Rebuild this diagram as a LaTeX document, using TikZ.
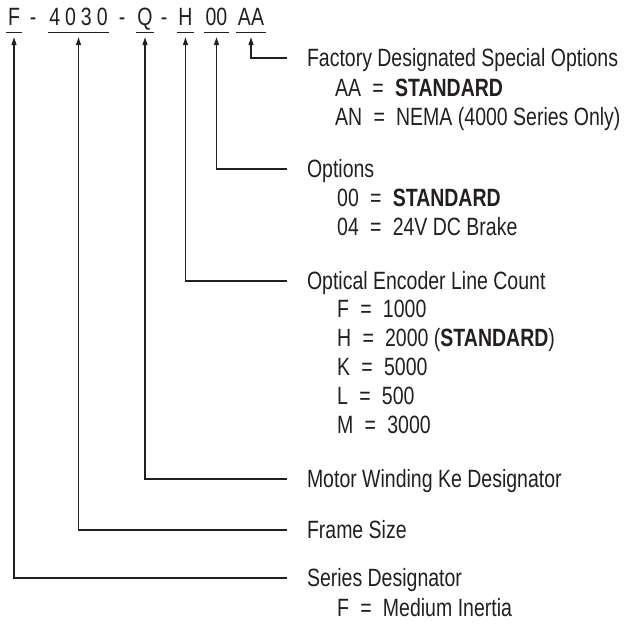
\documentclass[tikz,border=0pt]{standalone}
\usepackage{fontspec}
\setmainfont{Liberation Sans}[FakeStretch=0.78]
\usetikzlibrary{arrows.meta}
\definecolor{ink}{HTML}{231F20}
\newcommand\eq{\hspace{0.45em}=\hspace{0.45em}}

\begin{document}
\begin{tikzpicture}[x=1pt,y=-1pt,font=\fontsize{25}{30}\selectfont,text=ink,
  code/.style={anchor=base,inner xsep=1.5pt,inner ysep=7.5pt,text depth=0pt},
  head/.style={anchor=base west,inner sep=0pt,outer xsep=20pt,text height=18pt,text depth=2pt},
  item/.style={anchor=base west,inner sep=0pt},
  uline/.style={draw=ink,line width=1.2pt},
  lead/.style={draw=ink,line width=1.2pt,-{Triangle[length=8pt,width=5pt]},shorten >=4.5pt}]
\useasboundingbox (0,0) rectangle (624,624);

% part number
\node[code] (cF) at (14,25) {F};
\node[code] (d1) at (33,25) {-};
\node[code] (c4030) at (78.5,25) {4\hspace{5pt}0\hspace{5pt}3\hspace{5pt}0};
\node[code] (d2) at (122,25) {-};
\node[code] (cQ) at (145,25) {Q};
\node[code] (d3) at (164,25) {-};
\node[code] (cH) at (185.5,25) {H};
\node[code] (c00) at (216.5,25) {00};
\node[code] (cAA) at (251,25) {AA};
\foreach \c in {cF,c4030,cQ,cH,c00,cAA}
  \draw[uline] (\c.south west) -- (\c.south east);

% descriptions
\node[head] (hAA) at (287,66) {Factory Designated Special Options};
\node[item] (iAA) at (335,96) {AA\eq\textbf{STANDARD}};
\node[item] (iAN) at (335,125) {AN\eq NEMA (4000 Series Only)};

\node[head] (h00) at (287,177) {Options};
\node[item] (i00) at (337,206) {00\eq\textbf{STANDARD}};
\node[item] (i04) at (337,235) {04\eq 24V DC Brake};

\node[head] (hH) at (287,289) {Optical Encoder Line Count};
\node[item] (iF) at (337,317) {F\eq 1000};
\node[item] (iH) at (337,346) {H\eq 2000 (\textbf{STANDARD})};
\node[item] (iK) at (337,375) {K\eq 5000};
\node[item] (iL) at (337,404) {L\eq 500};
\node[item] (iM) at (337,433) {M\eq 3000};

\node[head] (hQ) at (287,487) {Motor Winding Ke Designator};
\node[head] (h4030) at (287,538) {Frame Size};
\node[head] (hF) at (287,586) {Series Designator};
\node[item] (iMed) at (337,616) {F\eq Medium Inertia};

% leaders
\draw[lead] (hAA.west) -| (cAA.south);
\draw[lead] (h00.west) -| (c00.south);
\draw[lead] (hH.west) -| (cH.south);
\draw[lead] (hQ.west) -| (cQ.south);
\draw[lead] (h4030.west) -| (c4030.south);
\draw[lead] (hF.west) -| (cF.south);
\end{tikzpicture}
\end{document}
